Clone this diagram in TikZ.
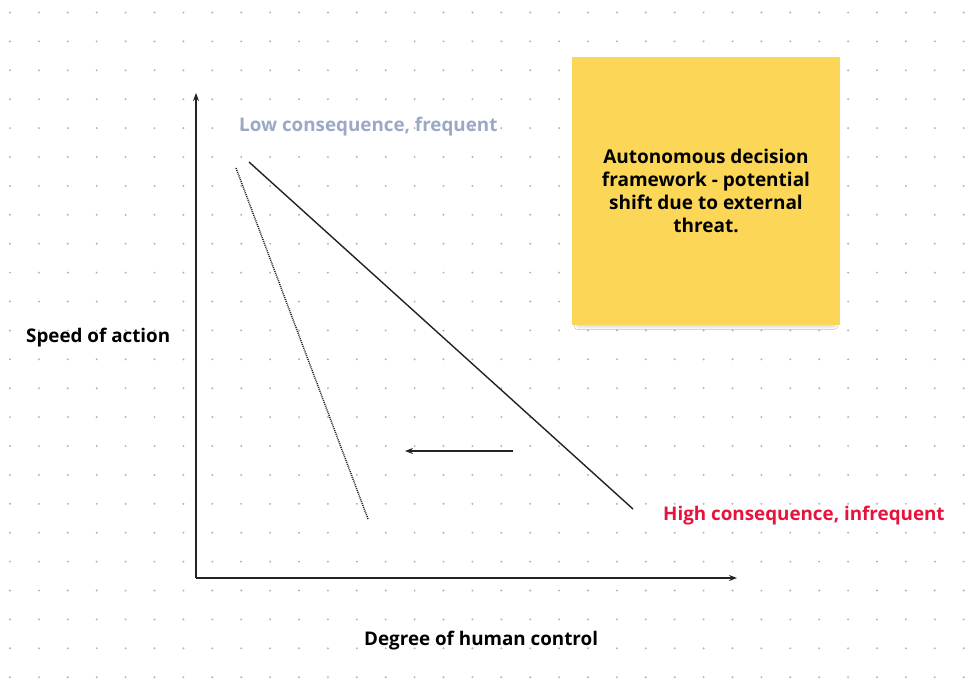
\documentclass[tikz,border=0pt]{standalone}
\usepackage{fontspec}
\setmainfont{Open Sans}
\usetikzlibrary{arrows.meta,shadows.blur}
\definecolor{gridgray}{RGB}{180,180,180}
\definecolor{lowblue}{RGB}{155,168,198}
\definecolor{highred}{RGB}{230,20,60}
\definecolor{notey}{RGB}{252,215,87}
\definecolor{inkgray}{RGB}{35,35,35}
\tikzset{
  lbl/.style={font=\fontsize{18.8}{22}\selectfont\bfseries, inner sep=0pt},
  axis/.style={draw=inkgray, line width=1.6pt, -{Stealth[length=8pt,width=6pt]}},
  trend/.style={draw=inkgray, line width=1.4pt},
  shiftline/.style={draw=inkgray, line width=1.5pt, dash pattern=on 1pt off 1pt},
  stickynote/.style={fill=notey, minimum width=268pt, minimum height=268pt, inner sep=0pt,
    blur shadow={shadow xshift=0pt, shadow yshift=-7pt, shadow scale=0.95, shadow blur radius=5pt, shadow blur steps=14, shadow opacity=30}},
}
\begin{document}
\begin{tikzpicture}[x=1pt,y=-1pt]
  \fill[white] (0,0) rectangle (968,678);
  \useasboundingbox (0,0) rectangle (968,678);
  % dot grid
  \foreach \i in {0,...,33}
    \foreach \j in {0,...,23}
      \fill[gridgray] (10+\i*28.9, 12.5+\j*28.9) circle (1.1);
  % sticky note
  \node[stickynote] (note) at (706,191) {};
  \node[lbl, align=center, font=\fontsize{19}{23}\selectfont\bfseries] (notetext) at (706,191)
    {Autonomous decision\\framework - potential\\shift due to external\\threat.};
  % axes
  \coordinate (origin) at (196,578);
  \coordinate (ytop) at (196,93);
  \coordinate (xend) at (737,578);
  \draw[axis] (origin) -- (ytop);
  \draw[axis] (origin) -- (xend);
  % trade-off line and its shifted version
  \coordinate (tA) at (249,162);
  \coordinate (tB) at (633,509);
  \draw[trend] (tA) -- (tB);
  \coordinate (sA) at (236,168);
  \coordinate (sB) at (368,519);
  \draw[shiftline] (sA) -- (sB);
  % shift direction
  \coordinate (shStart) at (513,451);
  \coordinate (shEnd) at (405,451);
  \draw[trend, -{Stealth[length=8pt,width=6pt]}] (shStart) -- (shEnd);
  % labels
  \node[lbl, anchor=base west, text=lowblue] (low) at (239,131) {Low consequence, frequent};
  \node[lbl, anchor=base west, text=highred] (high) at (663,520) {High consequence, infrequent};
  \node[lbl, anchor=base west] (speed) at (26,342) {Speed of action};
  \node[lbl, anchor=base west] (degree) at (364,645) {Degree of human control};
\end{tikzpicture}
\end{document}
